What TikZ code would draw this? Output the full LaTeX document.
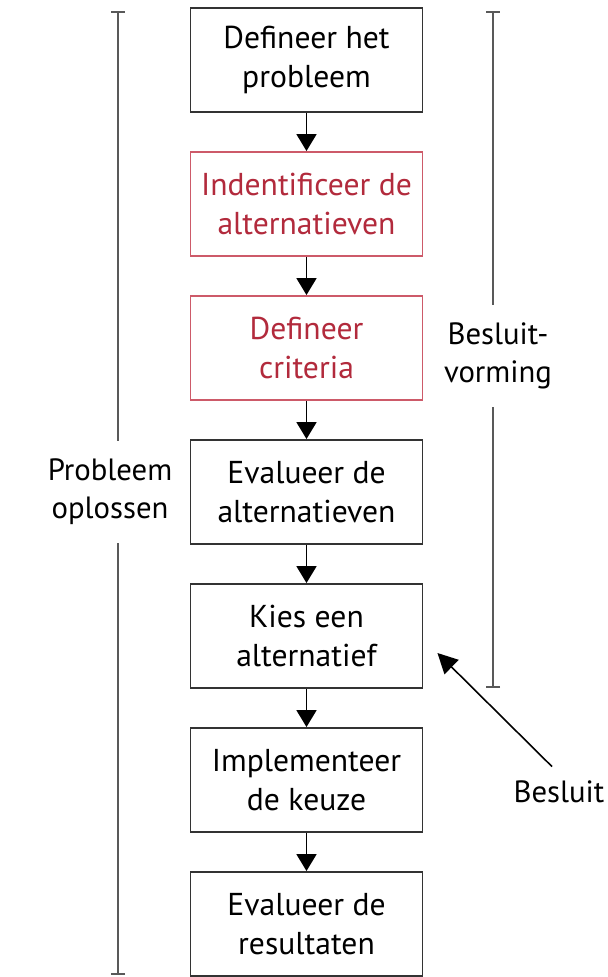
\documentclass[tikz,border=0pt]{standalone}
\usepackage{fontspec}
\setmainfont{PT Sans}
\usetikzlibrary{arrows.meta}

\definecolor{stepred}{RGB}{178,42,60}
\definecolor{edgered}{RGB}{205,90,105}

\tikzset{
  stage/.style={draw=black!80, line width=1.1pt, fill=white, align=center,
    minimum width=4.64cm, minimum height=2.08cm, inner sep=0pt,
    font=\fontsize{18}{22}\selectfont},
  redstage/.style={stage, draw=edgered, text=stepred},
  flow/.style={-{Triangle[width=0.4cm,length=0.34cm]}, line width=1.1pt},
  span/.style={{Bar[width=0.28cm]}-{Bar[width=0.28cm]}, draw=black!65, line width=1.1pt},
  tag/.style={fill=white, align=center, inner sep=2pt, minimum height=2.04cm,
    font=\fontsize{17.5}{21.5}\selectfont}
}

\begin{document}
\begin{tikzpicture}[x=0.02cm,y=-0.02cm]
  \useasboundingbox (0,0) rectangle (608,977);
  % the seven steps, top to bottom
  \foreach \i/\sty/\txt in {1/stage/{Defineer het\\probleem},
      2/redstage/{Indentificeer de\\alternatieven},
      3/redstage/{Defineer\\criteria},
      4/stage/{Evalueer de\\alternatieven},
      5/stage/{Kies een\\alternatief},
      6/stage/{Implementeer\\de keuze},
      7/stage/{Evalueer de\\resultaten}}{
    \node[\sty] (s\i) at (306.5,{60+144*(\i-1)}) {\txt};
  }
  \foreach \i [count=\j from 2] in {1,...,6}
    \draw[flow] (s\i) -- (s\j);

  % brackets on both sides
  \coordinate (ltop) at (118,11);
  \coordinate (lbot) at (118,975);
  \coordinate (rtop) at (493,11);
  \coordinate (rbot) at (493,688);
  \draw[span] (ltop) -- (lbot);
  \draw[span] (rtop) -- (rbot);
  \node[tag] (probleem) at (110,492) {Probleem\\oplossen};
  \node[tag] (vorming) at (498,356) {Besluit-\\vorming};

  \node[font=\fontsize{17.5}{21.5}\selectfont, inner sep=0pt] (besluit) at (559,792) {Besluit};
  \draw[-{Triangle[width=0.4cm,length=0.4cm]}, line width=0.9pt]
    ([shift={(-7,-14)}]besluit.north) -- ([shift={(14,17)}]s5.east);
\end{tikzpicture}
\end{document}
